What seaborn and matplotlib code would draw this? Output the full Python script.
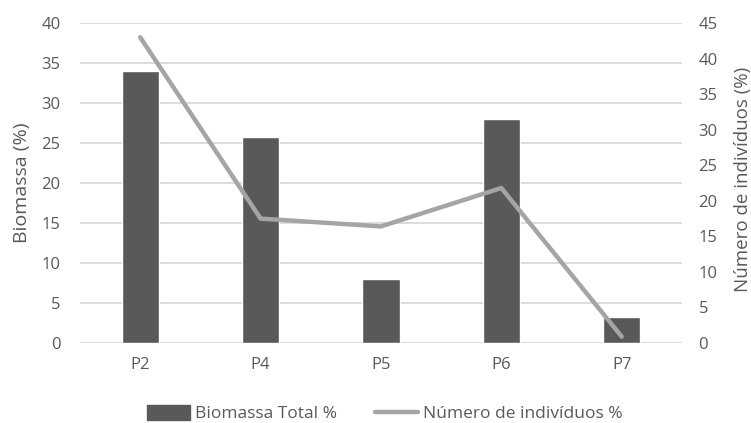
import matplotlib
matplotlib.use("Agg")
import matplotlib.pyplot as plt
import seaborn as sns
import numpy as np
import pandas as pd
from matplotlib.patches import Patch
from matplotlib.lines import Line2D

categories = ["P2", "P4", "P5", "P6", "P7"]
biomassa = [34.0, 25.7, 8.0, 28.0, 3.3]
individuos = [43.0, 17.5, 16.4, 21.8, 0.9]
left_ticks = [0, 5, 10, 15, 20, 25, 30, 35, 40]
right_ticks = [0, 5, 10, 15, 20, 25, 30, 35, 40, 45]

sns.set_style("white")
plt.rcParams['font.family'] = ['Open Sans', 'DejaVu Sans']
text_c = "#595959"
bar_c = "#595959"
line_c = "#A5A5A5"
grid_c = "#D9D9D9"

fig = plt.figure(figsize=(7.51, 4.23), dpi=100)
ax = fig.add_axes([0.1065, 0.189, 0.8015, 0.7566])

df = pd.DataFrame({"cat": categories, "bio": biomassa, "ind": individuos,
                   "pos": np.arange(len(categories))})
sns.barplot(data=df, x="cat", y="bio", color=bar_c, width=0.31, ax=ax,
            saturation=1, zorder=2)
ax.set_ylim(0, 40)
ax.set_yticks(left_ticks)
ax.set_xlim(-0.5, len(categories) - 0.5)
ax.set_axisbelow(True)
ax.yaxis.grid(True, color=grid_c, lw=1.3)
ax.xaxis.grid(False)
for s in ax.spines.values():
    s.set_visible(False)
ax.tick_params(axis="both", length=0, labelsize=12, colors=text_c)
ax.tick_params(axis="y", pad=14)
ax.tick_params(axis="x", pad=10)
ax.set_xlabel("")
ax.set_ylabel("Biomassa (%)", fontsize=14, color=text_c)
ax.yaxis.set_label_coords(-0.082, 0.5)

ax2 = ax.twinx()
sns.lineplot(data=df, x="pos", y="ind", color=line_c, lw=3.2, ax=ax2, zorder=3)
ax2.set_ylim(0, 45)
ax2.set_yticks(right_ticks)
ax2.set_xlim(-0.5, len(categories) - 0.5)
for s in ax2.spines.values():
    s.set_visible(False)
ax2.tick_params(axis="y", length=0, labelsize=12, colors=text_c, pad=12)
ax2.set_ylabel("Número de indivíduos (%)", fontsize=13.5, color=text_c)
ax2.yaxis.set_label_coords(1.086, 0.51)
ax2.set_xlabel("")

handles = [Patch(facecolor=bar_c, edgecolor=bar_c),
           Line2D([0], [0], color=line_c, lw=3.2)]
fig.legend(handles, ["Biomassa Total %", "Número de indivíduos %"],
           loc="center", bbox_to_anchor=(0.512, 0.022), ncol=2, frameon=False,
           fontsize=12.5, labelcolor=text_c, handlelength=2.5, handleheight=0.9,
           columnspacing=2.2, handletextpad=0.25)

fig.savefig("out.png", dpi=100)
